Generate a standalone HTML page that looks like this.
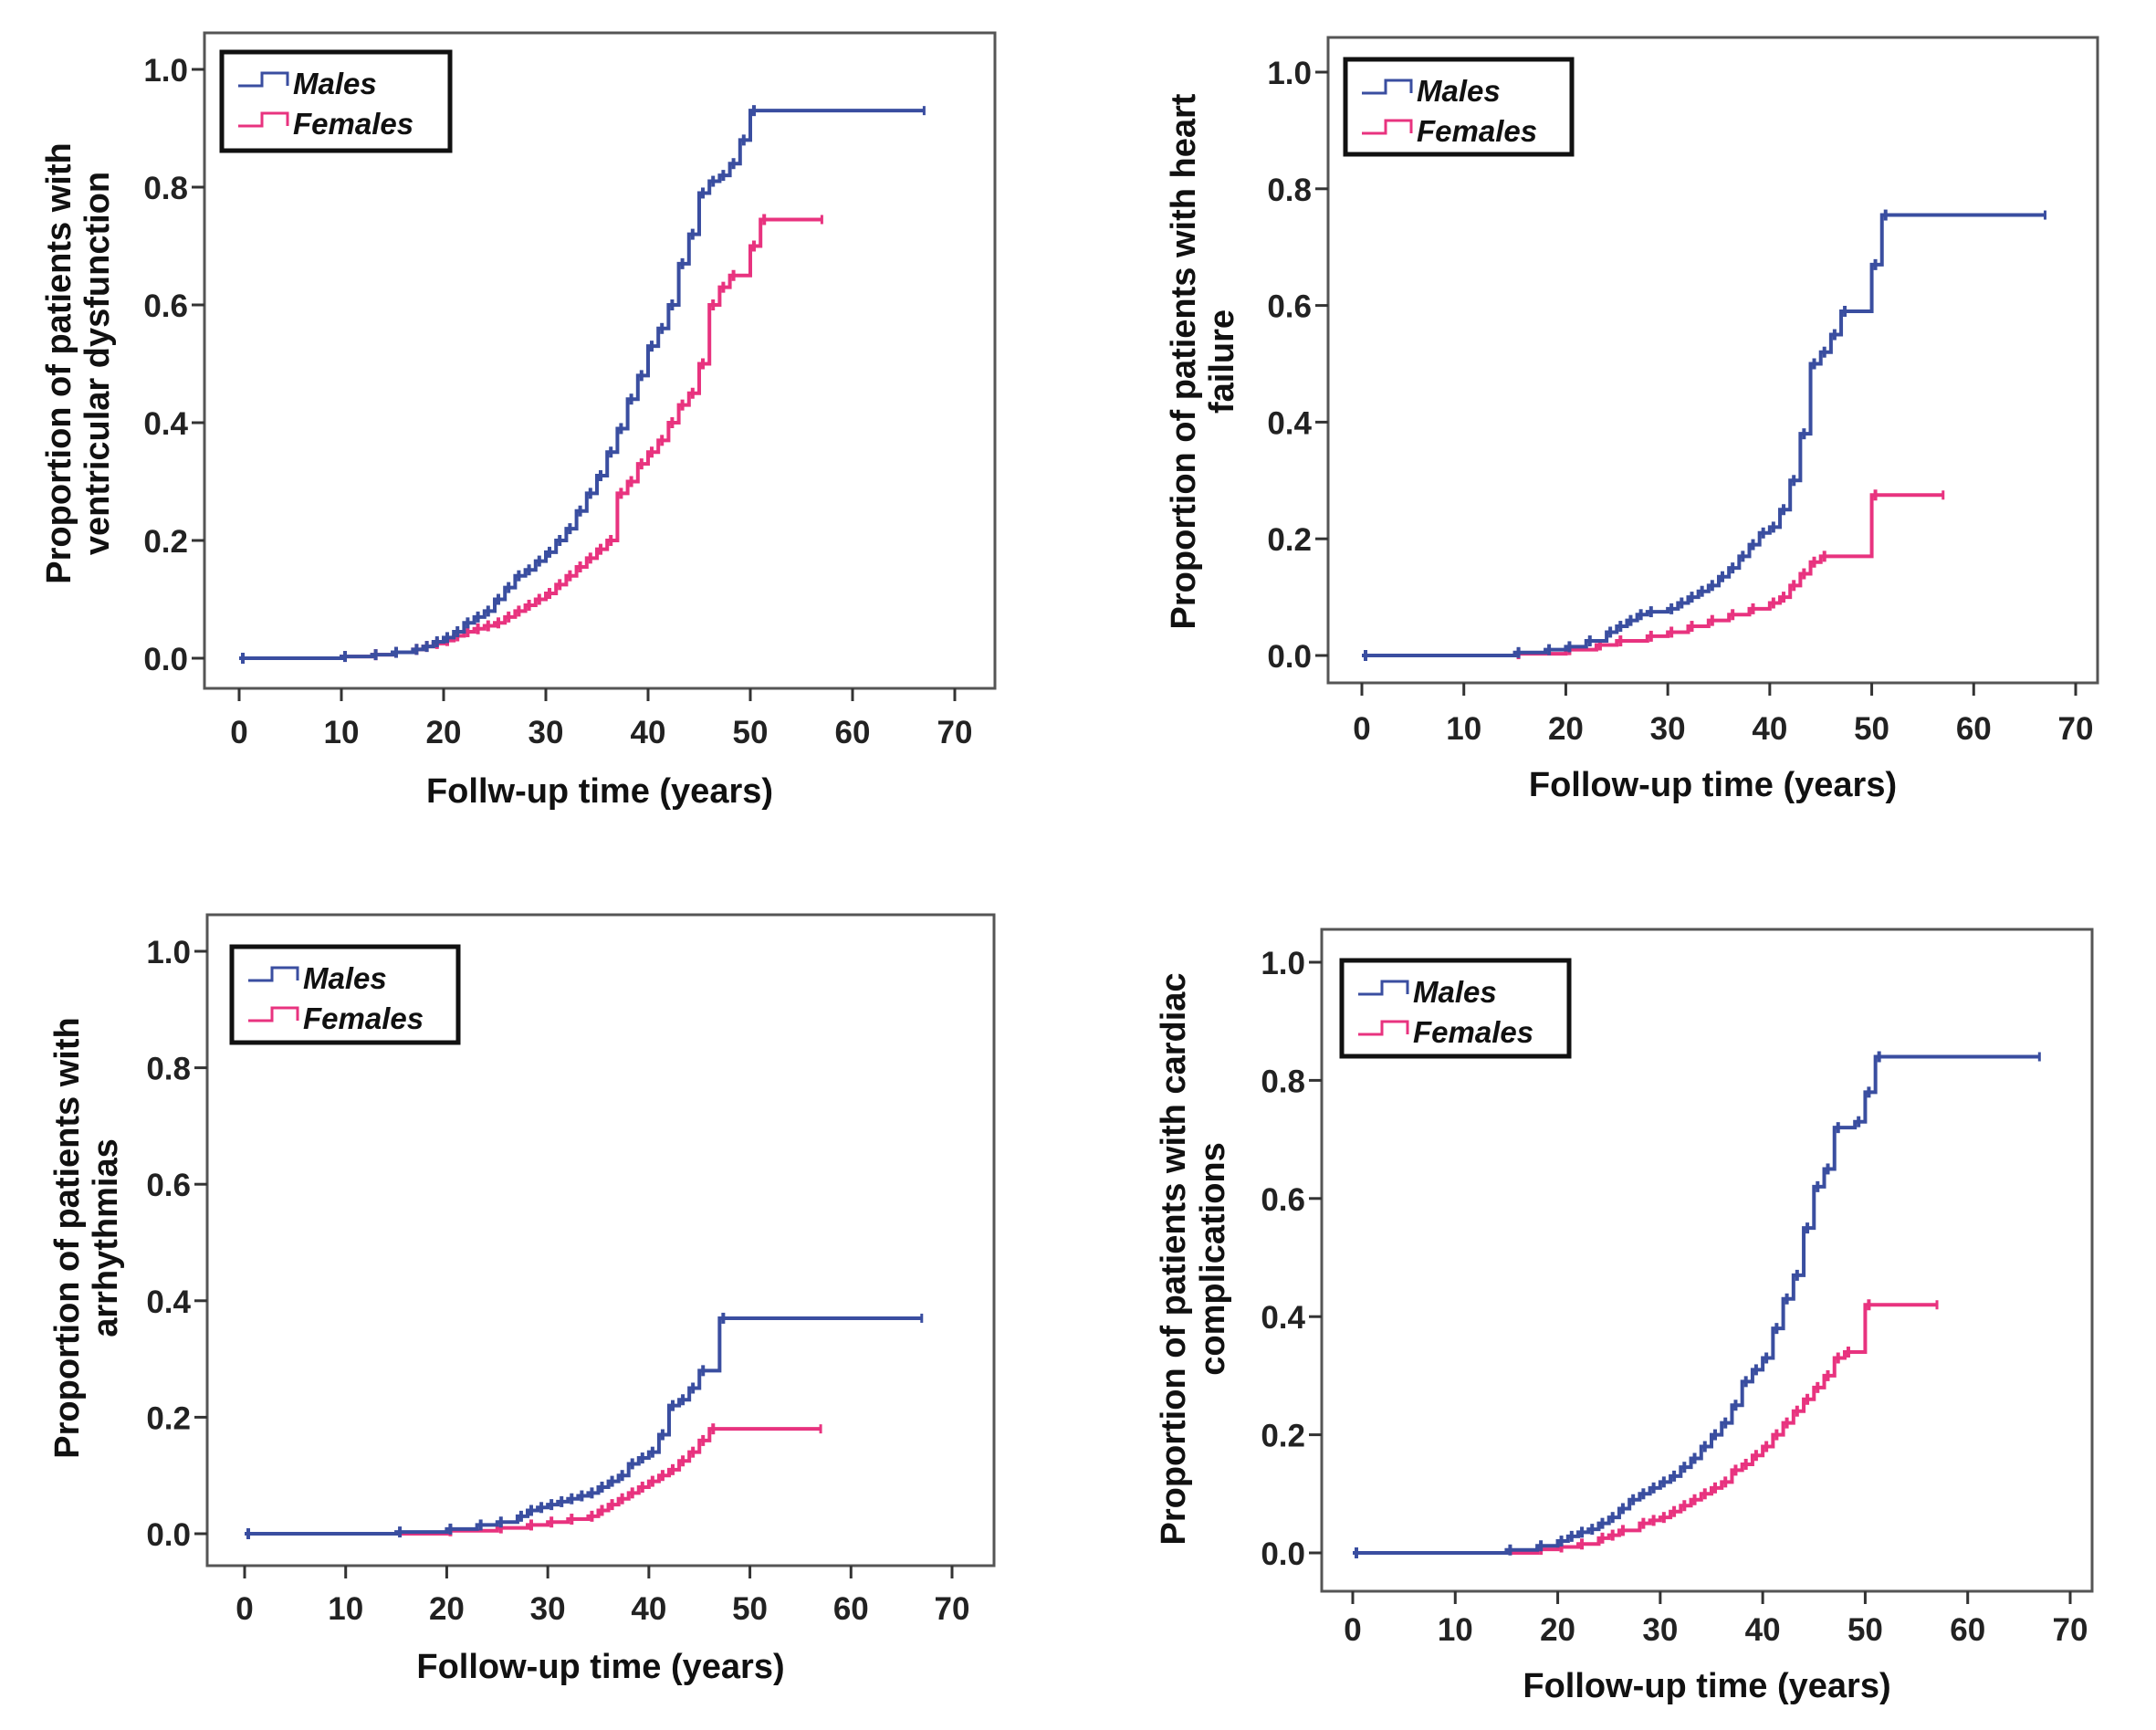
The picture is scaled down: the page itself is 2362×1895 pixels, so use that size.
<!DOCTYPE html>
<html><head><meta charset="utf-8"><style>
html,body{margin:0;padding:0;background:#fff;}
svg{display:block;font-family:"Liberation Sans",Arial,sans-serif;}
</style></head><body>
<svg id="chart" width="2362" height="1895" viewBox="0 0 2362 1895" xmlns="http://www.w3.org/2000/svg"></svg>
<script>
// Panel data (time in years, cumulative proportion)
const p1MaleT = [0,10,13,15,17,18,19,20,21,22,23,24,25,26,27,28,29,30,31,32,33,34,35,36,37,38,39,40,41,42,43,44,45,46,47,48,49,50];
const p1MaleP = [0,0.003,0.006,0.01,0.015,0.02,0.028,0.035,0.045,0.06,0.07,0.08,0.1,0.12,0.14,0.15,0.165,0.18,0.2,0.22,0.25,0.28,0.31,0.35,0.39,0.44,0.48,0.53,0.56,0.60,0.67,0.72,0.79,0.81,0.82,0.84,0.88,0.93];
const p1FemT = [0,10,13,15,17,18,19,20,21,22,23,24,25,26,27,28,29,30,31,32,33,34,35,36,37,38,39,40,41,42,43,44,45,46,47,48,50,51];
const p1FemP = [0,0.003,0.006,0.01,0.015,0.02,0.025,0.03,0.038,0.045,0.05,0.055,0.06,0.07,0.08,0.09,0.1,0.11,0.125,0.14,0.155,0.17,0.185,0.2,0.28,0.3,0.33,0.35,0.37,0.4,0.43,0.45,0.5,0.6,0.63,0.65,0.70,0.745];
const p2MaleT = [0,15,18,20,22,24,25,26,27,28,30,31,32,33,34,35,36,37,38,39,40,41,42,43,44,45,46,47,50,51];
const p2MaleP = [0,0.005,0.01,0.015,0.025,0.04,0.05,0.06,0.07,0.075,0.08,0.09,0.1,0.11,0.12,0.135,0.15,0.17,0.19,0.21,0.22,0.25,0.3,0.38,0.5,0.52,0.55,0.59,0.67,0.755];
const p2FemT = [0,15,20,23,25,28,30,32,34,36,38,40,41,42,43,44,45,50];
const p2FemP = [0,0.003,0.01,0.018,0.025,0.033,0.04,0.05,0.06,0.07,0.08,0.09,0.1,0.12,0.14,0.16,0.17,0.275];
const p3MaleT = [0,15,20,23,25,27,28,29,30,31,32,33,34,35,36,37,38,39,40,41,42,43,44,45,47];
const p3MaleP = [0,0.003,0.008,0.015,0.02,0.03,0.04,0.045,0.05,0.055,0.06,0.065,0.07,0.08,0.09,0.1,0.12,0.13,0.14,0.17,0.22,0.23,0.25,0.28,0.37];
const p3FemT = [0,20,25,28,30,32,34,35,36,37,38,39,40,41,42,43,44,45,46];
const p3FemP = [0,0.005,0.01,0.015,0.02,0.025,0.03,0.04,0.05,0.06,0.07,0.08,0.09,0.1,0.11,0.125,0.14,0.16,0.18];
const p4MaleT = [0,15,18,20,21,22,23,24,25,26,27,28,29,30,31,32,33,34,35,36,37,38,39,40,41,42,43,44,45,46,47,49,50,51];
const p4MaleP = [0,0.005,0.012,0.02,0.028,0.035,0.04,0.05,0.06,0.075,0.09,0.1,0.11,0.12,0.13,0.145,0.16,0.18,0.2,0.22,0.25,0.29,0.31,0.33,0.38,0.43,0.47,0.55,0.62,0.65,0.72,0.73,0.78,0.84];
const p4FemT = [0,18,20,22,24,25,26,28,29,30,31,32,33,34,35,36,37,38,39,40,41,42,43,44,45,46,47,48,50];
const p4FemP = [0,0.006,0.01,0.015,0.025,0.03,0.038,0.05,0.055,0.06,0.07,0.08,0.09,0.1,0.11,0.12,0.14,0.15,0.165,0.18,0.2,0.22,0.24,0.26,0.28,0.3,0.33,0.34,0.42];
const maleEnd = [67,67,67,67];
const femEnd = [57,57,57,57];
const xTicks = [0,10,20,30,40,50,60,70];
const yTicks = [0,0.2,0.4,0.6,0.8,1.0];
const yTickLabels = ["0.0","0.2","0.4","0.6","0.8","1.0"];

const NS="http://www.w3.org/2000/svg";
const svg=document.getElementById('chart');
function mk(tag,attrs,parent){const e=document.createElementNS(NS,tag);for(const k in attrs)e.setAttribute(k,attrs[k]);(parent||svg).appendChild(e);return e;}

const panels=[
 {f:[224,36,1090,754],x0:262,x70:1046,y0:721,y1:76,leg:[243,57,493,165],xl:801,xt:866,yt:[64,106],yc:398,
  title:"Follw-up time (years)",ylab:["Proportion of patients with","ventricular dysfunction"],m:[p1MaleT,p1MaleP],w:[p1FemT,p1FemP]},
 {f:[1455,41,2298,748],x0:1492,x70:2274,y0:718,y1:79,leg:[1474,65,1722,169],xl:797,xt:859,yt:[1296,1338],yc:396,
  title:"Follow-up time (years)",ylab:["Proportion of patients with heart","failure"],m:[p2MaleT,p2MaleP],w:[p2FemT,p2FemP]},
 {f:[227,1002,1089,1715],x0:268,x70:1043,y0:1680,y1:1042,leg:[254,1037,502,1142],xl:1761,xt:1825,yt:[73,115],yc:1356,
  title:"Follow-up time (years)",ylab:["Proportion of patients with","arrhythmias"],m:[p3MaleT,p3MaleP],w:[p3FemT,p3FemP]},
 {f:[1448,1018,2292,1743],x0:1482,x70:2268,y0:1701,y1:1054,leg:[1470,1052,1719,1157],xl:1784,xt:1846,yt:[1285,1328],yc:1379,
  title:"Follow-up time (years)",ylab:["Proportion of patients with cardiac","complications"],m:[p4MaleT,p4MaleP],w:[p4FemT,p4FemP]}
];
const MC="#3a4ea0", FC="#e8337f";

panels.forEach((p,i)=>{
  const g=mk('g',{});
  
  
  const sx=t=>p.x0+(p.x70-p.x0)*t/70;
  const sy=v=>p.y0+(p.y1-p.y0)*v;
  const [L,T,R,B]=p.f;
  const fr=mk('rect',{x:L,y:T,width:R-L,height:B-T,fill:'none',stroke:'#555','stroke-width':3},g);
  
  
  xTicks.forEach(t=>{
    const tk=mk('line',{x1:sx(t),x2:sx(t),y1:B,y2:B+14,stroke:'#333','stroke-width':3},g);
    
    
    const tx=mk('text',{x:sx(t),y:p.xl+13,'text-anchor':'middle','font-size':35,'font-weight':'bold',fill:'#222'},g);
    tx.textContent=t;
    
    
  });
  yTicks.forEach((v,j)=>{
    const tk=mk('line',{x1:L-14,x2:L,y1:sy(v),y2:sy(v),stroke:'#333','stroke-width':3},g);
    
    
    const tx=mk('text',{x:L-18,y:sy(v)+13,'text-anchor':'end','font-size':35,'font-weight':'bold',fill:'#222'},g);
    tx.textContent=yTickLabels[j];
    
    
  });
  const xt=mk('text',{x:(L+R)/2,y:p.xt+13,'text-anchor':'middle','font-size':38,'font-weight':'bold',fill:'#111'},g);
  xt.textContent=p.title;
  
  
  p.ylab.forEach((s,k)=>{
    const yt=mk('text',{x:p.yt[k]+13,y:p.yc,'text-anchor':'middle','font-size':38,'font-weight':'bold',fill:'#111',transform:`rotate(-90 ${p.yt[k]+13} ${p.yc})`},g);
    yt.textContent=s;
    
    
  });
  function series(T,P,end,col,name){
    let d=`M${sx(T[0])},${sy(P[0])}`;
    for(let k=1;k<T.length;k++){d+=`H${sx(T[k])}V${sy(P[k])}`;}
    d+=`H${sx(end)}`;
    const path=mk('path',{d:d,fill:'none',stroke:col,'stroke-width':4},g);
    
    
    for(let k=0;k<T.length;k++){
      const cm=mk('line',{x1:sx(T[k])+4,x2:sx(T[k])+4,y1:sy(P[k])-6,y2:sy(P[k])+6,stroke:col,'stroke-width':4},g);
      
      
    }
    const em=mk('line',{x1:sx(end),x2:sx(end),y1:sy(P[P.length-1])-5,y2:sy(P[P.length-1])+5,stroke:col,'stroke-width':3},g);
    
    
  }
  series(p.w[0],p.w[1],femEnd[i],FC,'females');
  series(p.m[0],p.m[1],maleEnd[i],MC,'males');
  const [a,b,c,d2]=p.leg;
  const lg=mk('g',{},g);
  
  
  mk('rect',{x:a,y:b,width:c-a,height:d2-b,fill:'#fff',stroke:'#111','stroke-width':5},lg);
  [[MC,'Males',b+35],[FC,'Females',b+79]].forEach(([col,lab,yy])=>{
    const ic=mk('path',{d:`M${a+18},${yy+2}H${a+44}V${yy-12}H${a+72}V${yy+2}`,fill:'none',stroke:col,'stroke-width':3},lg);
    
    
    const tx=mk('text',{x:a+78,y:yy+11,'font-size':33,'font-weight':'bold','font-style':'italic',fill:'#111'},lg);
    tx.textContent=lab;
    
    
  });
});
</script>
</body></html>
